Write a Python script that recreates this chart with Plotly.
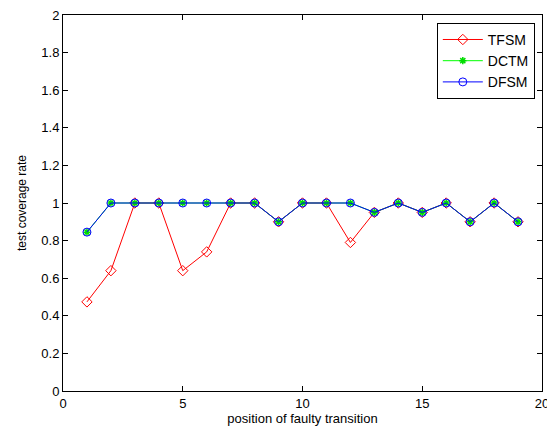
import plotly.graph_objects as go

positions = list(range(1, 20))
tfsm = [0.474, 0.64, 1, 1, 0.64, 0.74, 1, 1, 0.9, 1, 1, 0.79, 0.95, 1, 0.95, 1, 0.9, 1, 0.9]
dctm = [0.845, 1, 1, 1, 1, 1, 1, 1, 0.9, 1, 1, 1, 0.95, 1, 0.95, 1, 0.9, 1, 0.9]
dfsm = [0.845, 1, 1, 1, 1, 1, 1, 1, 0.9, 1, 1, 1, 0.95, 1, 0.95, 1, 0.9, 1, 0.9]
x_ticks = [0, 5, 10, 15, 20]
y_ticks = [0, 0.2, 0.4, 0.6, 0.8, 1, 1.2, 1.4, 1.6, 1.8, 2]

FONT = "Liberation Sans, Arial"

fig = go.Figure()
fig.add_trace(go.Scatter(x=positions, y=tfsm, name="TFSM", mode="lines+markers",
                         line=dict(color="#ff0000", width=1),
                         marker=dict(symbol="diamond-open", size=8, color="#ff0000", line=dict(width=1))))
fig.add_trace(go.Scatter(x=positions, y=dctm, name="DCTM", mode="lines+markers",
                         line=dict(color="#00ff00", width=1),
                         marker=dict(symbol="asterisk-open", size=6, color="#00dd00", line=dict(width=1.5, color="#00ff00"))))
fig.add_trace(go.Scatter(x=positions, y=dfsm, name="DFSM", mode="lines+markers",
                         line=dict(color="#0000ff", width=1),
                         marker=dict(symbol="circle-open", size=8, color="#0000ff", line=dict(width=1))))

axis_common = dict(showgrid=False, zeroline=False, showline=True, linecolor="black", linewidth=1,
                   mirror="allticks", ticks="inside", ticklen=5, tickcolor="black", automargin=False,
                   ticklabeloverflow="allow",
                   tickfont=dict(family=FONT, size=13, color="black"))

fig.update_xaxes(range=[0, 20], tickvals=x_ticks, ticktext=[str(v) for v in x_ticks],
                 title=dict(text="position of faulty transition", standoff=2,
                            font=dict(family=FONT, size=13, color="black")),
                 **axis_common)
fig.update_yaxes(range=[0, 2], tickvals=y_ticks, ticktext=[("%g" % v) for v in y_ticks],
                 title=dict(text="test coverage rate", standoff=12,
                            font=dict(family=FONT, size=12, color="black")),
                 **axis_common)

fig.update_layout(
    width=547, height=422,
    margin=dict(l=55, r=13, t=7, b=39),
    plot_bgcolor="white", paper_bgcolor="white",
    font=dict(family=FONT, size=13, color="black"),
    legend=dict(x=0.985, y=0.979, xanchor="right", yanchor="top",
                bgcolor="white", bordercolor="black", borderwidth=1,
                font=dict(size=14), itemwidth=40, entrywidth=70, tracegroupgap=0),
    showlegend=True,
)

fig.write_html("out.html")
